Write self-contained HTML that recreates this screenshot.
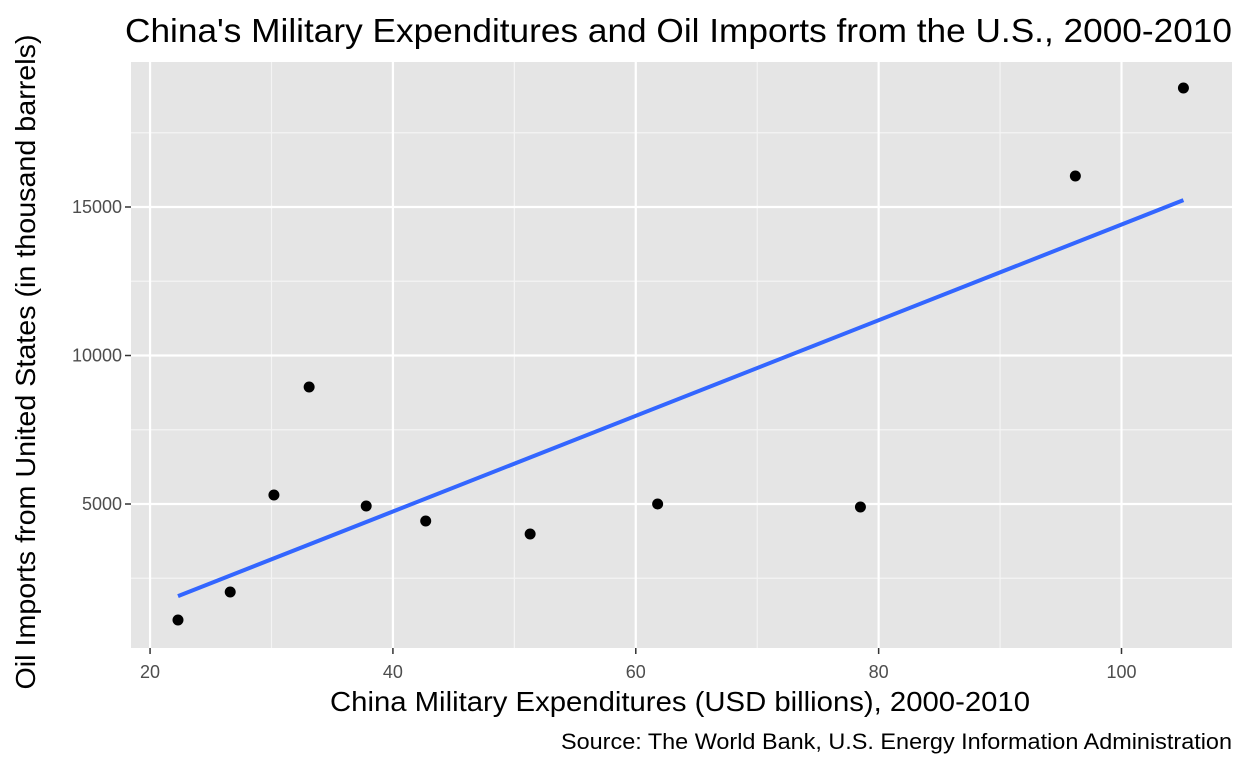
<!DOCTYPE html>
<html><head><meta charset="utf-8"><style>
body{margin:0;background:#fff;}
svg text{font-family:"Liberation Sans",Arial,sans-serif;}
</style></head><body>
<svg id="c" width="1248" height="768"></svg>
<script>
const xVals=[22.3,26.6,30.2,33.1,37.8,42.7,51.3,61.8,78.5,96.2,105.1];
const yVals=[1094,2037,5303,8939,4933,4428,3990,5000,4899,16044,19007];
const xTicks=[20,40,60,80,100];
const yTicks=[5000,10000,15000];
const xMinor=[30,50,70,90];
const yMinor=[2500,7500,12500,17500];
const L=131,R=1232,T=62,B=648;
const X0=18.43,X1=109.1,Y0=152,Y1=19882;
const sx=v=>L+(v-X0)/(X1-X0)*(R-L);
const sy=v=>B-(v-Y0)/(Y1-Y0)*(B-T);
const svg=document.getElementById('c');const NS='http://www.w3.org/2000/svg';
function mk(t,a,p){const e=document.createElementNS(NS,t);for(const k in a)e.setAttribute(k,a[k]);(p||svg).appendChild(e);return e;}
const bg=mk('rect',{x:L,y:T,width:R-L,height:B-T,fill:'#e5e5e5'});


xMinor.forEach(v=>{const l=mk('line',{x1:sx(v),x2:sx(v),y1:T,y2:B,stroke:'#f4f4f4','stroke-width':1.2});

});
yMinor.forEach(v=>{const l=mk('line',{x1:L,x2:R,y1:sy(v),y2:sy(v),stroke:'#f4f4f4','stroke-width':1.2});

});
xTicks.forEach(v=>{const l=mk('line',{x1:sx(v),x2:sx(v),y1:T,y2:B,stroke:'#fff','stroke-width':2.2});


const t=mk('line',{x1:sx(v),x2:sx(v),y1:B,y2:B+6,stroke:'#333','stroke-width':1.5});


const tx=mk('text',{x:sx(v),y:B+30,'text-anchor':'middle','font-size':18,fill:'#4d4d4d'});tx.textContent=v;

});
yTicks.forEach(v=>{const l=mk('line',{x1:L,x2:R,y1:sy(v),y2:sy(v),stroke:'#fff','stroke-width':2.2});


const t=mk('line',{x1:L-6,x2:L,y1:sy(v),y2:sy(v),stroke:'#333','stroke-width':1.5});


const tx=mk('text',{x:L-9,y:sy(v)+6,'text-anchor':'end','font-size':18,fill:'#4d4d4d'});tx.textContent=v;

});
const n=xVals.length,mx=xVals.reduce((a,b)=>a+b)/n,my=yVals.reduce((a,b)=>a+b)/n;
let sxy=0,sxx=0;for(let i=0;i<n;i++){sxy+=(xVals[i]-mx)*(yVals[i]-my);sxx+=(xVals[i]-mx)**2;}
const b=sxy/sxx,a=my-b*mx;const xa=Math.min(...xVals),xb=Math.max(...xVals);
const fit=mk('line',{x1:sx(xa),y1:sy(a+b*xa),x2:sx(xb),y2:sy(a+b*xb),stroke:'#3366ff','stroke-width':4});


xVals.forEach((v,i)=>{const c=mk('circle',{cx:sx(v),cy:sy(yVals[i]),r:5.5,fill:'#000'});

});
function txt(s,at,name){const e=mk('text',at);e.textContent=s;

return e;}
txt("China's Military Expenditures and Oil Imports from the U.S., 2000-2010",{x:125,y:42,'font-size':33,fill:'#000',textLength:1107,lengthAdjust:'spacingAndGlyphs'},'chart-title');
txt("China Military Expenditures (USD billions), 2000-2010",{x:680,y:711,'text-anchor':'middle','font-size':28,fill:'#000',textLength:700,lengthAdjust:'spacingAndGlyphs'},'x-axis-title');
txt("Oil Imports from United States (in thousand barrels)",{x:0,y:0,'text-anchor':'middle','font-size':28,fill:'#000',textLength:655,lengthAdjust:'spacingAndGlyphs',transform:`translate(35,362) rotate(-90)`},'y-axis-title');
txt("Source: The World Bank, U.S. Energy Information Administration",{x:1232,y:749,'text-anchor':'end','font-size':22,fill:'#000',textLength:671,lengthAdjust:'spacingAndGlyphs'},'source-caption');
</script>
</body></html>
